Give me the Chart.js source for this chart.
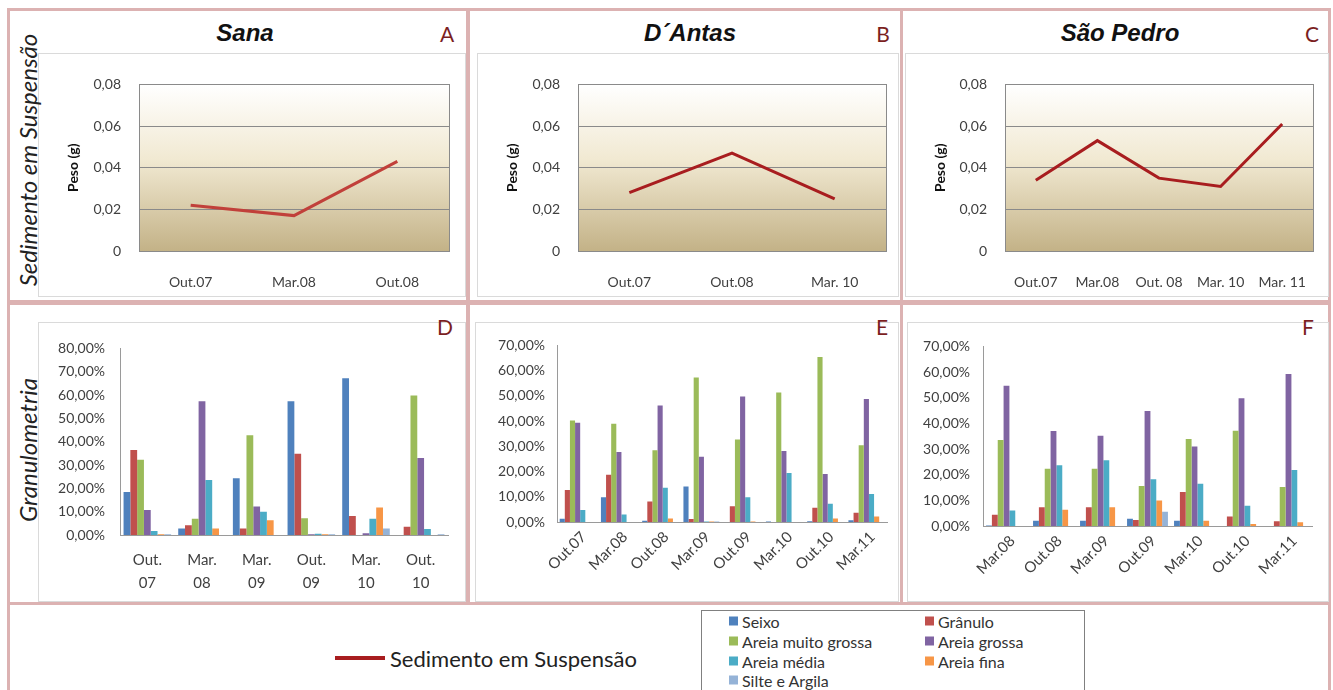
<!DOCTYPE html>
<html><head><meta charset="utf-8">
<script src="https://cdn.jsdelivr.net/npm/chart.js@4.4.0/dist/chart.umd.min.js"></script>
<style>
body{margin:0;width:1333px;height:690px;background:#fff;position:relative;overflow:hidden;font-family:Lato,sans-serif}
.panel{position:absolute;box-sizing:border-box;border:3px solid #dcb2b2}
.inner{position:absolute;box-sizing:border-box;border:1px solid #dadada}
.cv{position:absolute}
.title{position:absolute;font:italic bold 24px "Liberation Sans",Arial,sans-serif;transform:translate(-50%,-50%);white-space:nowrap;color:#111}
.letter{position:absolute;font:21px Lato,sans-serif;color:#7b1f1f;transform:translate(-50%,-50%)}
.side{position:absolute;font:italic 24px Lato,sans-serif;transform:translate(-50%,-50%) rotate(-90deg);white-space:nowrap;color:#222}
.lg{position:absolute;font:16px Lato,sans-serif;color:#333;transform:translateY(-50%);white-space:nowrap}
.sq{position:absolute;width:9px;height:9px;transform:translateY(-50%)}
</style></head><body>
<div class="panel" style="left:7px;top:8px;width:462px;height:295px"></div>
<div class="panel" style="left:467px;top:8px;width:436px;height:295px"></div>
<div class="panel" style="left:900px;top:8px;width:431px;height:295px"></div>
<div class="panel" style="left:7px;top:302px;width:462px;height:303px"></div>
<div class="panel" style="left:467px;top:302px;width:436px;height:303px"></div>
<div class="panel" style="left:900px;top:302px;width:431px;height:303px"></div>
<div class="panel" style="left:7px;top:602px;width:1324px;height:100px"></div>

<div class="inner" style="left:38px;top:53px;width:428px;height:244px"></div>
<div class="inner" style="left:477px;top:53px;width:422px;height:244px"></div>
<div class="inner" style="left:905px;top:53px;width:424px;height:244px"></div>
<div class="inner" style="left:38px;top:322px;width:428px;height:280px"></div>
<div class="inner" style="left:475px;top:322px;width:424px;height:280px"></div>
<div class="inner" style="left:907px;top:322px;width:422px;height:280px"></div>

<div class="title" style="left:245px;top:33px">Sana</div>
<div class="title" style="left:690px;top:33px">D´Antas</div>
<div class="title" style="left:1120px;top:33px">São Pedro</div>
<div class="letter" style="left:447px;top:33px">A</div>
<div class="letter" style="left:883px;top:33px">B</div>
<div class="letter" style="left:1312px;top:33px">C</div>
<div class="letter" style="left:445px;top:326px">D</div>
<div class="letter" style="left:882px;top:326px">E</div>
<div class="letter" style="left:1308px;top:326px">F</div>
<div class="side" style="left:27px;top:160px">Sedimento em Suspensão</div>
<div class="side" style="left:27px;top:450px">Granulometria</div>

<canvas id="cA" class="cv" style="left:40px;top:58px" width="420" height="236"></canvas>
<canvas id="cB" class="cv" style="left:475px;top:58px" width="420" height="236"></canvas>
<canvas id="cC" class="cv" style="left:907px;top:58px" width="420" height="236"></canvas>
<canvas id="cD" class="cv" style="left:40px;top:325px" width="420" height="272"></canvas>
<canvas id="cE" class="cv" style="left:477px;top:325px" width="420" height="272"></canvas>
<canvas id="cF" class="cv" style="left:907px;top:325px" width="420" height="272"></canvas>

<div style="position:absolute;left:335px;top:656px;width:50px;height:4px;background:#a81d1f"></div>
<div class="lg" style="left:390px;top:658px;font-size:22px;color:#222">Sedimento em Suspensão</div>
<div style="position:absolute;left:701px;top:610px;width:384px;height:100px;box-sizing:border-box;border:1px solid #808080"></div>
<div id="legend"></div>

<script>
// ---- Suspended sediment (top row) ----
const sanaDates = ['Out.07', 'Mar.08', 'Out.08'];
const sanaSusp = [0.022, 0.017, 0.043];
const antasDates = ['Out.07', 'Out.08', 'Mar. 10'];
const antasSusp = [0.028, 0.047, 0.025];
const pedroDates = ['Out.07', 'Mar.08', 'Out. 08', 'Mar. 10', 'Mar. 11'];
const pedroSusp = [0.034, 0.053, 0.035, 0.031, 0.061];

// ---- Granulometry (middle row), percent ----
const seriesNames = ['Seixo', 'Grânulo', 'Areia muito grossa', 'Areia grossa', 'Areia média', 'Areia fina', 'Silte e Argila'];
const seriesColors = ['#4f81bd', '#c0504d', '#9bbb59', '#8064a2', '#4bacc6', '#f79646', '#95b3d7'];

const sanaGranDates = [['Out.', '07'], ['Mar.', '08'], ['Mar.', '09'], ['Out.', '09'], ['Mar.', '10'], ['Out.', '10']];
const sanaSeixo = [18.4, 2.8, 24.3, 57.3, 67.2, 0];
const sanaGranulo = [36.4, 4.2, 2.8, 34.8, 8.1, 3.5];
const sanaAMG = [32.3, 7.0, 42.8, 7.2, 0, 59.8];
const sanaAG = [10.7, 57.3, 12.2, 0.3, 0.7, 33.0];
const sanaAM = [1.7, 23.6, 10.0, 0.5, 7.0, 2.6];
const sanaAF = [0.3, 2.8, 6.3, 0.3, 11.8, 0];
const sanaSilte = [0.3, 0, 0, 0.3, 2.8, 0.3];

const antasGranDates = ['Out.07', 'Mar.08', 'Out.08', 'Mar.09', 'Out.09', 'Mar.10', 'Out.10', 'Mar.11'];
const antasSeixo = [1.3, 9.8, 0.5, 14.1, 0, 0.2, 0.3, 0.7];
const antasGranulo = [12.7, 18.7, 8.1, 1.2, 6.2, 0, 5.6, 3.7];
const antasAMG = [40.2, 38.9, 28.4, 57.3, 32.7, 51.3, 65.4, 30.4];
const antasAG = [39.3, 27.7, 46.2, 25.9, 49.7, 28.1, 19.0, 48.8];
const antasAM = [4.8, 3.0, 13.6, 0.2, 9.8, 19.4, 7.2, 11.1];
const antasAF = [0, 0, 1.4, 0.2, 0.2, 0, 1.4, 2.2];
const antasSilte = [0, 0, 0, 0.2, 0, 0, 0, 0];

const pedroGranDates = ['Mar.08', 'Out.08', 'Mar.09', 'Out.09', 'Mar.10', 'Out.10', 'Mar.11'];
const pedroSeixo = [0.2, 2.0, 2.0, 2.8, 2.0, 0, 0];
const pedroGranulo = [4.4, 7.3, 7.3, 2.3, 13.3, 3.7, 1.9];
const pedroAMG = [33.5, 22.3, 22.3, 15.6, 33.9, 37.1, 15.2];
const pedroAG = [54.7, 37.0, 35.2, 44.8, 31.0, 49.8, 59.2];
const pedroAM = [6.0, 23.7, 25.6, 18.2, 16.5, 7.9, 21.8];
const pedroAF = [0, 6.3, 7.3, 9.9, 2.0, 0.8, 1.5];
const pedroSilte = [0, 0, 0, 5.6, 0, 0, 0];

const FONT = 'Lato, sans-serif';
const fmtW = v => (v === 0 ? '0' : v.toFixed(2).replace('.', ','));
const fmtP = v => v.toFixed(2).replace('.', ',') + '%';

const parchment = {
  id: 'parchment',
  beforeDraw(chart) {
    const a = chart.chartArea, ctx = chart.ctx;
    const g = ctx.createLinearGradient(0, a.top, 0, a.bottom);
    g.addColorStop(0, '#ffffff');
    g.addColorStop(0.45, '#f1e9d2');
    g.addColorStop(1, '#c3b287');
    ctx.save();
    ctx.fillStyle = g;
    ctx.fillRect(a.left, a.top, a.right - a.left, a.bottom - a.top);
    ctx.restore();
  },
  beforeDatasetsDraw(chart) {
    const a = chart.chartArea, ctx = chart.ctx;
    ctx.save();
    ctx.strokeStyle = '#8a8a8a';
    ctx.lineWidth = 1;
    ctx.strokeRect(Math.round(a.left) + 0.5, Math.round(a.top) + 0.5, Math.round(a.right - a.left), Math.round(a.bottom - a.top));
    ctx.restore();
  }
};

function lineChart(id, labels, data, color, L) {
  new Chart(document.getElementById(id), {
    type: 'line',
    data: { labels, datasets: [{ data, borderColor: color, borderWidth: 3, pointRadius: 0, tension: 0, fill: false }] },
    plugins: [parchment],
    options: {
      responsive: false, animation: false, devicePixelRatio: 1,
      layout: { padding: { left: 0, top: L.top, right: L.right, bottom: 0 } },
      plugins: { legend: { display: false }, tooltip: { enabled: false } },
      scales: {
        x: {
          offset: true,
          grid: { display: false }, border: { display: false },
          ticks: { color: '#404040', font: { family: FONT, size: 14 }, padding: 15, maxRotation: 0, autoSkip: false },
          afterFit(s) { s.height = L.xh; }
        },
        y: {
          min: 0, max: 0.08,
          ticks: { stepSize: 0.02, color: '#404040', font: { family: FONT, size: 14 }, padding: 18, callback: v => fmtW(v) },
          grid: { color: '#8a8a8a', drawTicks: false },
          border: { display: false },
          title: { display: true, text: 'Peso (g)', color: '#111', font: { family: FONT, size: 14, weight: 'bold' }, padding: { top: L.tp, bottom: 0 } },
          afterFit(s) { s.width = L.yw; }
        }
      }
    }
  });
}

lineChart('cA', sanaDates, sanaSusp, '#c1403a', { top: 17, right: 11, xh: 43, yw: 99, tp: 25 });
lineChart('cB', antasDates, antasSusp, '#a81d1f', { top: 17, right: 9, xh: 43, yw: 103, tp: 29 });
lineChart('cC', pedroDates, pedroSusp, '#a81d1f', { top: 17, right: 14, xh: 43, yw: 98, tp: 25 });

function barChart(id, labels, series, max, L) {
  new Chart(document.getElementById(id), {
    type: 'bar',
    data: {
      labels,
      datasets: series.map((d, i) => ({ label: seriesNames[i], data: d, backgroundColor: seriesColors[i], borderWidth: 0, categoryPercentage: 0.87, barPercentage: 1.0 }))
    },
    options: {
      responsive: false, animation: false, devicePixelRatio: 1,
      layout: { padding: { left: 0, top: L.top, right: L.right, bottom: 0 } },
      plugins: { legend: { display: false }, tooltip: { enabled: false } },
      scales: {
        x: {
          grid: { display: false, drawTicks: false },
          border: { display: true, color: '#9a9a9a' },
          ticks: L.rot
            ? { color: '#404040', font: { family: FONT, size: 15 }, minRotation: 45, maxRotation: 45, padding: 6, labelOffset: 6, autoSkip: false }
            : { color: '#404040', font: { family: FONT, size: 15, lineHeight: 1.5 }, maxRotation: 0, padding: 14, autoSkip: false },
          afterFit(s) { s.height = L.xh; }
        },
        y: {
          min: 0, max,
          ticks: { stepSize: 10, color: '#404040', font: { family: FONT, size: 14 }, padding: L.tpad, callback: v => fmtP(v) },
          grid: { display: false, drawTicks: false },
          border: { display: true, color: '#9a9a9a' },
          afterFit(s) { s.width = L.yw; }
        }
      }
    }
  });
}

barChart('cD', sanaGranDates, [sanaSeixo, sanaGranulo, sanaAMG, sanaAG, sanaAM, sanaAF, sanaSilte], 80,
  { top: 18, right: 12, xh: 62, yw: 80, tpad: 15, rot: false });
barChart('cE', antasGranDates, [antasSeixo, antasGranulo, antasAMG, antasAG, antasAM, antasAF, antasSilte], 70,
  { top: 18, right: 10, xh: 75, yw: 80, tpad: 12, rot: true });
barChart('cF', pedroGranDates, [pedroSeixo, pedroGranulo, pedroAMG, pedroAG, pedroAM, pedroAF, pedroSilte], 70,
  { top: 18, right: 15, xh: 71, yw: 76, tpad: 13, rot: true });

// legend for granulometry series
const lgPos = [[729, 621], [925, 621], [729, 641], [925, 641], [729, 661], [925, 661], [729, 680]];
const lg = document.getElementById('legend');
seriesNames.forEach((n, i) => {
  const [x, y] = lgPos[i];
  const s = document.createElement('div');
  s.className = 'sq'; s.style.left = x + 'px'; s.style.top = y + 'px'; s.style.background = seriesColors[i];
  lg.appendChild(s);
  const t = document.createElement('div');
  t.className = 'lg'; t.style.left = (x + 13) + 'px'; t.style.top = y + 'px'; t.textContent = n;
  lg.appendChild(t);
});
</script>
</body></html>
